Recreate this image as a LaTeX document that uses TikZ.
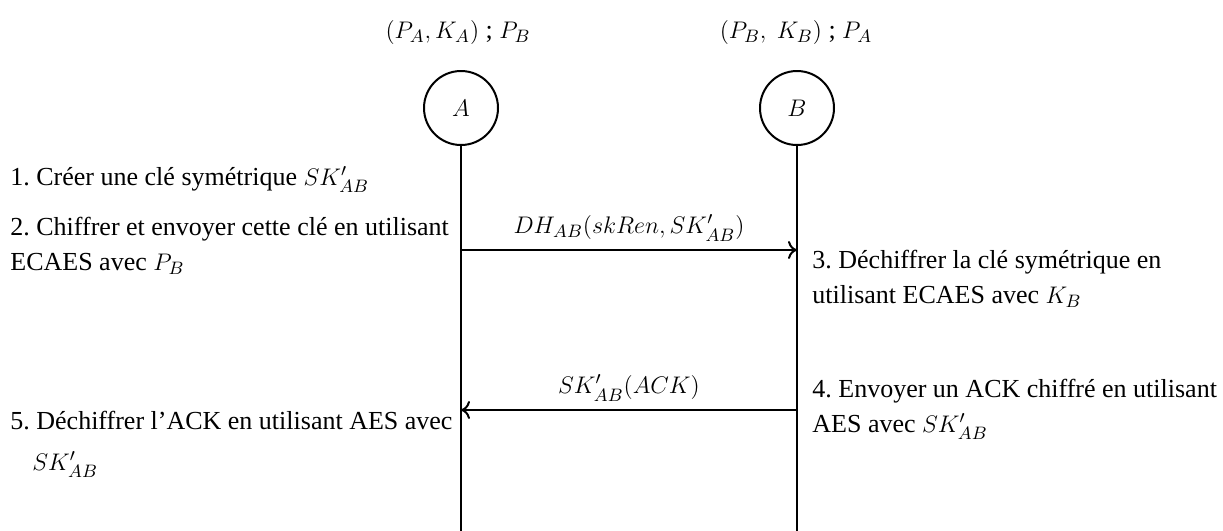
\documentclass[tikz,border=0pt]{standalone}
\usepackage{fontspec}
\setmainfont{Liberation Serif}
\usepackage{amsmath}
\usepackage{tikz}
\usetikzlibrary{arrows.meta, positioning, calc}
\colorlet{inkline}{black}
\frenchspacing

\begin{document}
\begin{tikzpicture}[x=0.5pt, y=-0.5pt,
  font=\fontsize{13}{17.5}\selectfont,
  party/.style={draw=inkline, circle, line width=1pt, minimum size=37pt, inner sep=0pt},
  lifeline/.style={draw=inkline, line width=1pt},
  msg/.style={draw=inkline, line width=1pt, -{To[length=4.5pt,width=9pt]}},
  stepnote/.style={anchor=base west, align=left, inner sep=0pt}]
  \useasboundingbox (0,0) rectangle (1223,531);
  % the two parties and what each of them holds
  \node[party] (A) at (461,108) {$A$};
  \node[party] (B) at (797,108) {$B$};
  \node[anchor=base] (keysA) at (458,38) {$(P_A,K_A)$ ; $P_B$};
  \node[anchor=base] (keysB) at (796,38) {$(P_B,\ K_B)$ ; $P_A$};
  \coordinate (bot) at (0,531);
  \draw[lifeline] (A.south) -- (A.south |- bot);
  \draw[lifeline] (B.south) -- (B.south |- bot);
  % messages
  \coordinate (m1) at (0,250);
  \coordinate (m2) at (0,410);
  \draw[msg] (A |- m1) -- node[above, inner sep=4pt] (lab1) {$DH_{AB}(skRen,SK'_{AB})$} (B |- m1);
  \draw[msg] (B |- m2) -- node[above, inner sep=4pt] (lab2) {$SK'_{AB}(ACK)$} (A |- m2);
  % steps (base = last line)
  \node[stepnote] (s1) at (10,185) {1. Créer une clé symétrique $SK'_{AB}$};
  \node[stepnote] (s2) at (10,270) {2. Chiffrer et envoyer cette clé en utilisant\\ECAES avec $P_B$};
  \node[stepnote] (s3) at (812,303) {3. Déchiffrer la clé symétrique en\\utilisant ECAES avec $K_B$};
  \node[stepnote] (s4) at (812,432) {4. Envoyer un ACK chiffré en utilisant\\AES avec $SK'_{AB}$};
  \node[stepnote] (s5) at (10,470) {5. Déchiffrer l’ACK en utilisant AES avec\\[3pt]\hspace*{11pt}$SK'_{AB}$};
\end{tikzpicture}
\end{document}
